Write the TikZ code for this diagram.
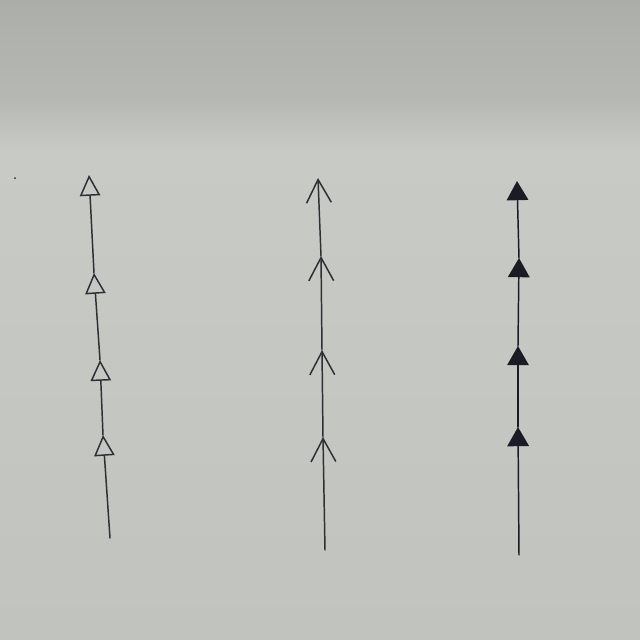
\documentclass[tikz,border=0pt]{standalone}
\usepackage{tikz}
\usetikzlibrary{arrows.meta,positioning}
\definecolor{paperTop}{HTML}{ABAEA9}
\definecolor{paperMid}{HTML}{B6B8B3}
\definecolor{paperLow}{HTML}{C8CAC5}
\definecolor{paperBot}{HTML}{C1C3BE}
\definecolor{inkGray}{HTML}{2E2E33}
\definecolor{inkDark}{HTML}{1B1B26}
\tikzset{
    pen/.style={draw=inkGray, line width=1.05pt, line cap=round, line join=round},
    openhead/.style={pen, -{Triangle[open, length=5.2mm, width=5.1mm]}},
    barbhead/.style={pen, -{Straight Barb[length=5.8mm, width=6.2mm]}},
    fullhead/.style={pen, draw=inkDark, -{Triangle[length=4.8mm, width=5.4mm, fill=inkDark]}}
}
\begin{document}
\begin{tikzpicture}[x=0.025cm, y=-0.025cm]
                \useasboundingbox (0,0) rectangle (640,640);
                \shade[top color=paperTop, bottom color=paperMid] (0,0) rectangle (640,100);
                \shade[top color=paperMid, bottom color=paperLow] (0,100) rectangle (640,150);
                \shade[top color=paperLow, bottom color=paperBot] (0,150) rectangle (640,640);
                \fill[inkGray] (15,178) circle (1);
                \coordinate (L0) at (110,538);
                \coordinate (L1) at (103,435);
                \coordinate (L2) at (100,360);
                \coordinate (L3) at (94,273);
                \coordinate (L4) at (89,175);
                \coordinate (M0) at (325,550);
                \coordinate (M1) at (323,437);
                \coordinate (M2) at (322,350);
                \coordinate (M3) at (321,256);
                \coordinate (M4) at (318,178);
                \coordinate (R0) at (519,555);
                \coordinate (R1) at (518,427);
                \coordinate (R2) at (518,346);
                \coordinate (R3) at (519,258);
                \coordinate (R4) at (517,181);
                \draw[openhead] (L0) -- (L1);
                \draw[openhead] (L1) -- (L2);
                \draw[openhead] (L2) -- (L3);
                \draw[openhead] (L3) -- (L4);
                \draw[barbhead] (M0) -- (M1);
                \draw[barbhead] (M1) -- (M2);
                \draw[barbhead] (M2) -- (M3);
                \draw[barbhead] (M3) -- (M4);
                \draw[fullhead] (R0) -- (R1);
                \draw[fullhead] (R1) -- (R2);
                \draw[fullhead] (R2) -- (R3);
                \draw[fullhead] (R3) -- (R4);
            \end{tikzpicture}
\end{document}
